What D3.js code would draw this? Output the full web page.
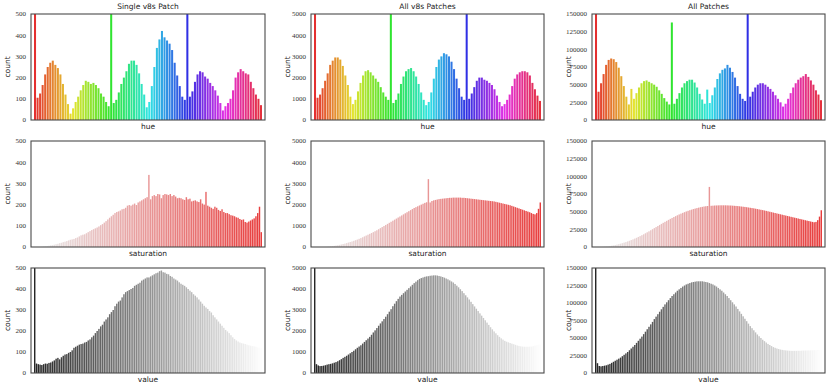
<!DOCTYPE html>
<html>
<head>
<meta charset="utf-8">
<script src="https://cdn.jsdelivr.net/npm/d3@7"></script>
<style>
  body { margin: 0; background: #fff; }
  .tick-label { font-family: "Liberation Serif", serif; font-size: 7px; fill: #333; }
  .axis-label { font-family: "DejaVu Sans", sans-serif; font-size: 7.5px; fill: #222; }
  .title { font-family: "DejaVu Sans", sans-serif; font-size: 7.5px; fill: #222; }
</style>
</head>
<body>
<div id="chart"></div>
<script>
// hue histograms, 90 bins (2 OpenCV hue units each)
var hueSingle = [900,105,125,165,215,250,270,280,260,245,215,170,120,75,30,55,85,110,140,165,
  185,180,170,175,165,150,125,110,85,65,900,80,95,130,170,200,230,265,280,280,
  260,220,170,120,60,85,160,250,340,380,420,390,375,360,330,270,210,160,110,95,
  900,110,135,180,215,230,225,205,195,175,160,140,115,80,45,65,80,100,140,200,
  225,240,230,220,215,180,150,120,100,70];
var hueV8s = [9000,1050,1200,1500,1850,2200,2600,2800,2950,2950,2850,2550,2100,1650,1100,750,950,1350,1750,2100,
  2300,2350,2250,2100,1950,1800,1550,1300,1100,950,9000,800,950,1250,1700,2050,2300,2400,2450,2300,
  2050,1700,1300,950,700,850,1300,1950,2500,2850,3000,3150,3100,3000,2750,2400,1950,1500,1100,950,
  9000,1000,1250,1550,1850,2000,2000,1900,1850,1750,1650,1450,1150,850,650,750,950,1200,1600,1950,
  2150,2250,2300,2300,2250,2100,1750,1450,1150,900];
var hueAll = [300000,40000,52000,65000,78000,85000,87000,86000,82000,74000,62000,48000,33000,22000,44000,30000,38000,46000,52000,55000,
  56000,54000,52000,50000,47000,42000,37000,31000,26000,22000,138000,23000,30000,38000,46000,52000,55000,57000,57000,53000,
  46000,37000,29000,23000,43000,24000,35000,46000,58000,66000,71000,73000,78000,74000,68000,60000,48000,37000,30000,27000,
  300000,33000,40000,46000,50000,52000,52000,50000,47000,44000,40000,35000,30000,25000,19000,23000,30000,38000,46000,52000,
  57000,60000,62000,65000,61000,56000,50000,42000,36000,28000];

// saturation histograms, 128 bins
var satSingle = [0,0,0,0,1,2,3,4,6,8,9,11,13,15,18,20,23,25,28,31,
  34,36,38,42,45,50,55,58,60,65,70,75,80,84,88,92,97,103,108,115,
  122,130,138,145,152,160,165,168,172,178,180,185,195,198,195,200,205,198,210,215,
  220,225,230,235,340,225,240,245,240,250,248,230,245,250,248,245,250,240,245,238,
  230,232,230,225,222,235,225,228,215,218,220,215,212,225,205,200,260,195,190,185,
  180,190,185,175,170,178,165,160,160,155,150,148,145,140,138,132,128,130,118,115,
  120,125,130,135,145,160,190,70];
var satV8s = [0,0,0,0,0,0,5,10,20,30,40,55,70,85,100,120,140,160,185,210,
  235,260,290,320,350,385,420,460,500,540,580,620,660,700,745,790,840,890,940,990,
  1040,1090,1140,1190,1240,1290,1340,1390,1440,1490,1540,1590,1640,1690,1740,1790,1840,1880,1920,1960,
  2000,2040,2080,2110,3200,2100,2170,2200,2220,2240,2260,2270,2280,2290,2300,2310,2320,2320,2330,2330,
  2330,2330,2330,2320,2320,2310,2300,2290,2280,2270,2260,2250,2240,2230,2220,2210,2200,2190,2180,2170,
  2160,2150,2130,2110,2090,2070,2050,2030,2010,1990,1970,1940,1910,1880,1850,1820,1790,1760,1730,1700,
  1670,1640,1600,1560,1540,1600,1800,2100];
var satAll = [0,0,0,0,200,400,700,1000,1400,1800,2300,2800,3400,4000,4700,5400,6200,7000,7900,8800,
  9800,10800,11900,13000,14200,15400,16700,18000,19400,20800,22200,23700,25200,26700,28200,29700,31200,32700,34200,35600,
  37000,38400,39800,41100,42400,43700,44900,46100,47200,48300,49300,50300,51200,52100,52900,53700,54400,55100,55700,56300,
  56800,57300,57700,58000,85000,58300,58500,58700,58800,58900,59000,59000,59000,59000,58900,58800,58700,58500,58300,58100,
  57900,57600,57300,57000,56700,56300,55900,55500,55100,54700,54200,53700,53200,52700,52200,51700,51100,50500,49900,49300,
  48700,48100,47500,46900,46300,45700,45100,44500,43900,43300,42700,42100,41500,40900,40300,39700,39100,38500,37900,37300,
  36700,36100,35500,35000,35500,38000,43000,52000];

// value histograms, 128 bins
var valSingle = [900,45,42,40,38,42,45,44,48,50,55,60,68,72,65,75,82,88,90,96,
  100,108,120,125,130,135,138,140,145,148,155,160,170,178,190,200,210,222,230,245,
  255,265,280,290,300,318,330,340,345,360,375,385,390,395,400,405,415,420,425,430,
  440,445,450,455,455,460,465,470,475,478,485,488,480,478,472,470,462,458,450,445,
  440,432,425,420,415,408,400,392,385,375,368,360,350,340,330,320,312,305,295,288,
  275,265,255,245,235,225,215,205,198,190,180,170,162,155,150,145,142,140,138,135,
  132,130,128,127,125,122,120,118];
var valV8s = [9000,420,360,330,335,350,370,400,420,435,460,490,520,560,610,660,720,770,820,880,
  940,1000,1060,1130,1200,1260,1320,1400,1480,1560,1640,1720,1820,1930,2030,2140,2250,2360,2460,2570,
  2680,2800,2920,3040,3180,3300,3420,3530,3640,3720,3800,3880,3960,4040,4120,4200,4280,4350,4420,4480,
  4520,4550,4580,4600,4610,4630,4640,4650,4650,4640,4620,4600,4570,4540,4500,4460,4410,4360,4310,4240,
  4160,4080,3990,3900,3800,3700,3600,3500,3390,3280,3170,3060,2950,2840,2730,2620,2510,2400,2290,2180,
  2080,1980,1890,1800,1720,1650,1590,1530,1490,1460,1430,1400,1370,1340,1310,1290,1270,1260,1250,1250,
  1250,1255,1260,1280,1300,1320,1340,1350];
var valAll = [300000,14000,10000,9500,10000,10500,11000,12000,13000,14500,16000,17500,19000,20500,22000,24000,26000,28000,30000,32500,
  35000,37500,40000,43000,46000,49000,52000,55500,59000,62500,66000,69500,73000,77000,80500,84000,87500,91000,94500,98000,
  101000,104000,107000,110000,112500,115000,117500,119500,121500,123500,125000,126500,127500,128500,129500,130000,130500,131000,131000,131000,
  131000,130500,130000,129500,128500,127500,126500,125000,123500,121500,119500,117500,115000,112500,110000,107000,104000,101000,98000,95000,
  91500,88000,84500,81000,77500,74000,70500,67000,64000,61000,58000,55000,52500,50000,47500,45500,43500,41500,40000,38500,
  37000,36000,35000,34200,33500,33000,32600,32300,32000,31800,31700,31600,31600,31600,31700,31800,31900,32000,32100,32200,
  32300,32400,32500,32600,32700,32800,32900,33000];

var titles = ["Single v8s Patch", "All v8s Patches", "All Patches"];
var rowLabels = ["hue", "saturation", "value"];
var yMax = [500, 5000, 150000];
var yStep = [100, 1000, 25000];

var grid = [
  [hueSingle, hueV8s, hueAll],
  [satSingle, satV8s, satAll],
  [valSingle, valV8s, valAll]
];

var cols = [[31, 265], [311, 544], [592, 825]];
var rows = [[14, 120], [141, 247], [268, 373]];

function barColor(row, i, n) {
  if (row == 0) return d3.hsl(i * 360 / n, 0.9, 0.46).toString();
  var t = (i + 0.5) / n;
  if (row == 1) {
    var c = Math.round(240 * (1 - t) + 25 * t);
    return "rgb(228," + c + "," + c + ")";
  }
  var g = Math.round(255 * (i / n));
  return "rgb(" + g + "," + g + "," + g + ")";
}

var svg = d3.select("#chart").append("svg")
  .attr("width", 830)
  .attr("height", 388);

grid.forEach(function (rowData, r) {
  rowData.forEach(function (data, c) {
    var x0 = cols[c][0], x1 = cols[c][1];
    var y0 = rows[r][0], y1 = rows[r][1];
    var id = "clip" + r + c;

    svg.append("clipPath").attr("id", id)
      .append("rect")
      .attr("x", x0).attr("y", y0)
      .attr("width", x1 - x0).attr("height", y1 - y0);

    var x = d3.scaleBand()
      .domain(d3.range(data.length))
      .range([x0 + 3, x1 - 3])
      .paddingInner(0.2);
    var y = d3.scaleLinear()
      .domain([0, yMax[c]])
      .range([y1, y0]);

    var g = svg.append("g").attr("clip-path", "url(#" + id + ")");
    g.selectAll("rect")
      .data(data)
      .enter().append("rect")
      .attr("x", function (d, i) { return x(i); })
      .attr("width", x.bandwidth())
      .attr("y", function (d) { return y(d); })
      .attr("height", function (d) { return y1 - y(d); })
      .style("fill", function (d, i) { return barColor(r, i, data.length); })
      .style("opacity", 0.85);

    // frame
    svg.append("rect")
      .attr("x", x0).attr("y", y0)
      .attr("width", x1 - x0).attr("height", y1 - y0)
      .style("fill", "none")
      .style("stroke", "#4a4a4a")
      .style("stroke-width", 1.1);

    // y tick labels
    svg.selectAll(null)
      .data(d3.range(0, yMax[c] + 1, yStep[c]))
      .enter().append("text")
      .attr("class", "tick-label")
      .attr("x", x0 - 5)
      .attr("y", function (d) { return y(d); })
      .attr("dy", "0.35em")
      .attr("text-anchor", "end")
      .text(function (d) { return d; });

    svg.append("text")
      .attr("class", "axis-label")
      .attr("transform", "translate(" + (x0 - 21) + "," + ((y0 + y1) / 2) + ") rotate(-90)")
      .attr("text-anchor", "middle")
      .text("count");

    svg.append("text")
      .attr("class", "axis-label")
      .attr("x", (x0 + x1) / 2)
      .attr("y", y1 + 8.5)
      .attr("text-anchor", "middle")
      .text(rowLabels[r]);

    if (r == 0) {
      svg.append("text")
        .attr("class", "title")
        .attr("x", (x0 + x1) / 2)
        .attr("y", y0 - 5)
        .attr("text-anchor", "middle")
        .text(titles[c]);
    }
  });
});
</script>
</body>
</html>
